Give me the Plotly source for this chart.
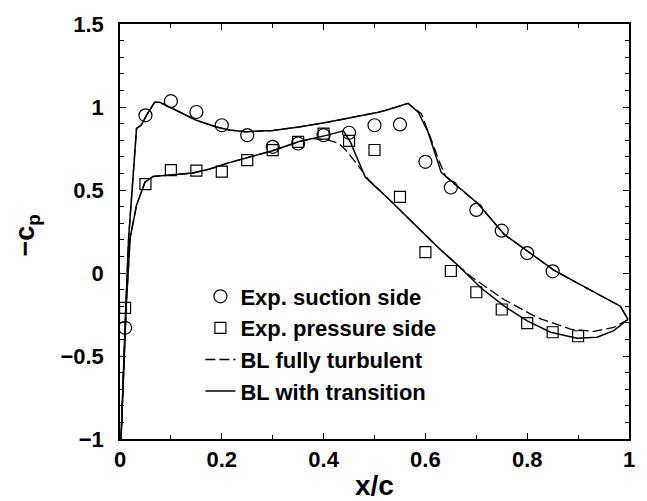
import plotly.graph_objects as go

# ---------------- data ----------------
exp_suction_x = [0.01, 0.05, 0.10, 0.15, 0.20, 0.25, 0.30, 0.35, 0.40, 0.45, 0.50, 0.55, 0.60, 0.65, 0.70, 0.75, 0.80, 0.85]
exp_suction_y = [-0.33, 0.95, 1.035, 0.97, 0.89, 0.83, 0.76, 0.78, 0.83, 0.845, 0.89, 0.895, 0.67, 0.515, 0.38, 0.255, 0.12, 0.01]

exp_pressure_x = [0.01, 0.05, 0.10, 0.15, 0.20, 0.25, 0.30, 0.35, 0.40, 0.45, 0.50, 0.55, 0.60, 0.65, 0.70, 0.75, 0.80, 0.85, 0.90]
exp_pressure_y = [-0.21, 0.535, 0.62, 0.617, 0.611, 0.68, 0.74, 0.79, 0.84, 0.796, 0.741, 0.458, 0.126, 0.012, -0.116, -0.22, -0.302, -0.357, -0.381]

# BL with transition (solid)
tr_suction_x = [0.002, 0.0065, 0.0117, 0.017, 0.022, 0.028, 0.0325, 0.042, 0.052, 0.068, 0.078, 0.111, 0.15, 0.189, 0.215,
                0.247, 0.30, 0.352, 0.39, 0.41, 0.508, 0.521, 0.566, 0.586, 0.605, 0.622, 0.631, 0.703, 0.755, 0.853, 0.905, 0.983, 0.998]
tr_suction_y = [-1.0, -0.574, -0.18, 0.213, 0.409, 0.65, 0.871, 0.891, 0.95, 1.028, 1.028, 0.979, 0.92, 0.88, 0.861,
                0.851, 0.858, 0.88, 0.90, 0.91, 0.969, 0.979, 1.022, 0.969, 0.851, 0.694, 0.606, 0.419, 0.232, 0.016, -0.072, -0.2, -0.28]
tr_pressure_x = [0.002, 0.007, 0.0125, 0.02, 0.0325, 0.049, 0.065, 0.098, 0.143, 0.176, 0.215, 0.30, 0.352, 0.41, 0.439,
                 0.4525, 0.472, 0.482, 0.527, 0.625, 0.664, 0.71, 0.755, 0.80, 0.846, 0.898, 0.9375, 0.97, 0.998]
tr_pressure_y = [-1.0, -0.574, -0.18, 0.213, 0.409, 0.547, 0.582, 0.59, 0.602, 0.626, 0.665, 0.737, 0.792, 0.832, 0.856,
                 0.79, 0.645, 0.576, 0.449, 0.154, 0.045, -0.092, -0.2, -0.288, -0.357, -0.393, -0.387, -0.347, -0.28]

# BL fully turbulent (dashed)
tu_suction_x = [0.002, 0.0065, 0.0117, 0.017, 0.022, 0.028, 0.0325, 0.042, 0.052, 0.068, 0.078, 0.111, 0.15, 0.189, 0.215,
                0.247, 0.30, 0.352, 0.39, 0.41, 0.508, 0.521, 0.566, 0.592, 0.612, 0.628, 0.64, 0.703, 0.755, 0.853, 0.905, 0.983, 0.998]
tu_suction_y = [-1.0, -0.574, -0.18, 0.213, 0.409, 0.65, 0.871, 0.891, 0.95, 1.028, 1.028, 0.979, 0.92, 0.88, 0.861,
                0.851, 0.858, 0.88, 0.90, 0.91, 0.969, 0.979, 1.022, 0.96, 0.80, 0.665, 0.58, 0.419, 0.232, 0.016, -0.072, -0.2, -0.28]
tu_pressure_x = [0.002, 0.007, 0.0125, 0.02, 0.0325, 0.049, 0.065, 0.098, 0.143, 0.176, 0.215, 0.30, 0.352, 0.38, 0.41, 0.43,
                 0.443, 0.456, 0.475, 0.49, 0.527, 0.625, 0.664, 0.69, 0.755, 0.82, 0.885, 0.931, 0.97, 0.998]
tu_pressure_y = [-1.0, -0.574, -0.18, 0.213, 0.409, 0.547, 0.582, 0.59, 0.602, 0.626, 0.665, 0.737, 0.792, 0.81, 0.80, 0.78,
                 0.743, 0.694, 0.616, 0.557, 0.449, 0.154, 0.045, -0.023, -0.161, -0.269, -0.338, -0.352, -0.328, -0.28]

x_ticks = [0, 0.2, 0.4, 0.6, 0.8, 1]
x_tick_labels = ["0", "0.2", "0.4", "0.6", "0.8", "1"]
y_ticks = [-1, -0.5, 0, 0.5, 1, 1.5]
y_tick_labels = ["\u22121", "\u22120.5", "0", "0.5", "1", "1.5"]

labels = ["Exp. suction side", "Exp. pressure side", "BL fully turbulent", "BL with transition"]

FONT = "Liberation Sans, Arial, Helvetica, sans-serif"

fig = go.Figure()
fig.add_trace(go.Scatter(x=exp_suction_x, y=exp_suction_y, mode="markers", name=labels[0],
                         marker=dict(symbol="circle-open", size=13, color="black", line=dict(width=1.2, color="black"))))
fig.add_trace(go.Scatter(x=exp_pressure_x, y=exp_pressure_y, mode="markers", name=labels[1],
                         marker=dict(symbol="square-open", size=11, color="black", line=dict(width=1.2, color="black"))))
fig.add_trace(go.Scatter(x=tu_suction_x + [None] + tu_pressure_x, y=tu_suction_y + [None] + tu_pressure_y,
                         mode="lines", name=labels[2], connectgaps=False,
                         line=dict(color="black", width=1.3, dash="10px,4px")))
fig.add_trace(go.Scatter(x=tr_suction_x + [None] + tr_pressure_x, y=tr_suction_y + [None] + tr_pressure_y,
                         mode="lines", name=labels[3], connectgaps=False,
                         line=dict(color="black", width=1.5)))

axis_common = dict(showline=True, linecolor="black", linewidth=1.5, mirror="allticks",
                   ticks="inside", ticklen=6, tickwidth=1, tickcolor="black",
                   showgrid=False, zeroline=False,
                   tickfont=dict(family=FONT, size=22, color="black", weight="bold"))

fig.update_xaxes(range=[0, 1], tickmode="array", tickvals=x_ticks, ticktext=x_tick_labels,
                 minor=dict(ticks="inside", dtick=0.1, ticklen=4, tickcolor="black", tickwidth=1, showgrid=False),
                 **axis_common)
fig.update_yaxes(range=[-1, 1.5], tickmode="array", tickvals=y_ticks, ticktext=y_tick_labels,
                 ticklabelstandoff=10,
                 minor=dict(ticks="inside", dtick=0.1, tick0=0, ticklen=4, tickcolor="black", tickwidth=1, showgrid=False),
                 **axis_common)

fig.update_layout(
    width=647, height=501,
    margin=dict(l=120, r=15, t=15, b=62),
    paper_bgcolor="white", plot_bgcolor="white",
    showlegend=True,
    legend=dict(x=0.158, y=0.394, xanchor="left", yanchor="top",
                bgcolor="rgba(0,0,0,0)", borderwidth=0,
                font=dict(family=FONT, size=22, color="black", weight="bold"),
                itemwidth=30, tracegroupgap=0),
    annotations=[
        dict(text="x/c", xref="paper", yref="paper", x=0.5, y=-0.113, xanchor="center", yanchor="middle",
             showarrow=False, font=dict(family=FONT, size=28, color="black", weight="bold")),
        dict(text="\u2212c<sub>p</sub>", xref="paper", yref="paper", x=-0.183, y=0.49, xanchor="center", yanchor="middle",
             textangle=-90, showarrow=False, font=dict(family=FONT, size=27, color="black", weight="bold")),
    ],
)

fig.write_html("out.html")
